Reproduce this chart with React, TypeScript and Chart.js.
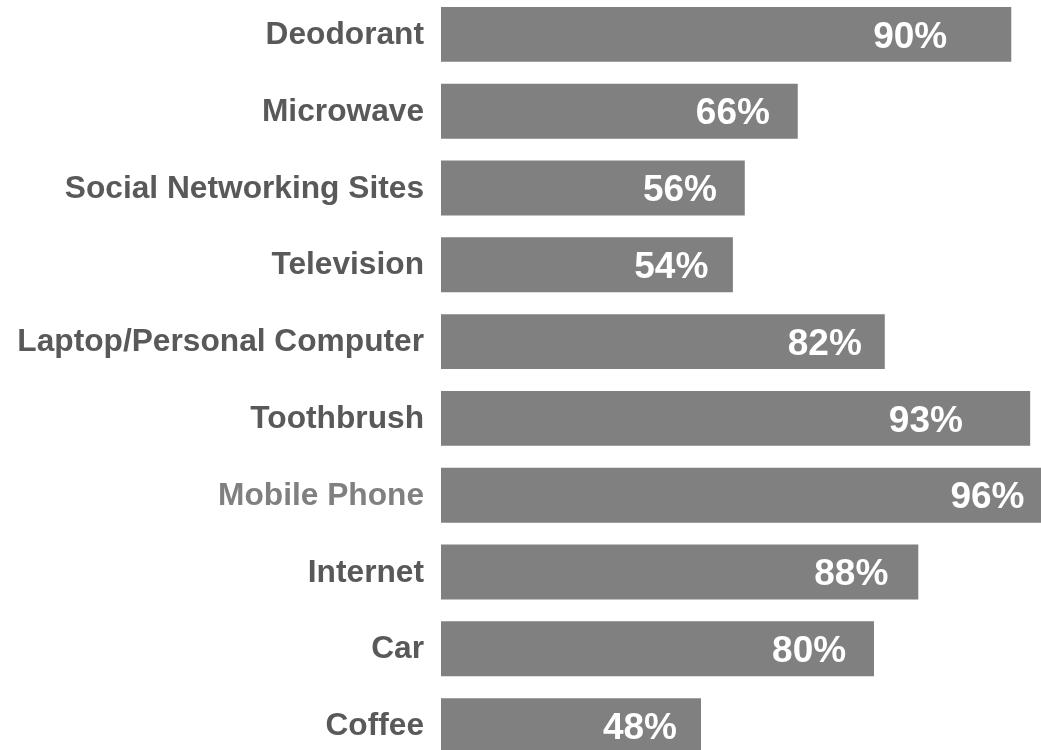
import React, { useEffect, useRef } from "react";
import { Chart, registerables } from "chart.js";

Chart.register(...registerables);

const categories = [
  "Deodorant",
  "Microwave",
  "Social Networking Sites",
  "Television",
  "Laptop/Personal Computer",
  "Toothbrush",
  "Mobile Phone",
  "Internet",
  "Car",
  "Coffee",
];
// drawn bar lengths (as they appear in the picture)
const barValues = [105.5, 66, 56.2, 54, 82.1, 109, 114, 88.3, 80.1, 48.1];
// printed value labels
const valueLabels = ["90%", "66%", "56%", "54%", "82%", "93%", "96%", "88%", "80%", "48%"];
// where each printed label is centred, on the value scale
const labelAnchor = [86.8, 54.0, 44.2, 42.6, 71.0, 89.7, 101.1, 75.9, 68.1, 36.8];
const highlighted = "Mobile Phone";

const FONT = '"Liberation Sans", Arial, sans-serif';

const labelPlugin = {
  id: "labels",
  afterDatasetsDraw(chart: any) {
    const meta = chart.getDatasetMeta(0);
    const xs = chart.scales.x;
    const ctx = chart.ctx;
    const left = chart.chartArea.left;
    ctx.save();
    ctx.textBaseline = "alphabetic";
    // category labels
    const cs = 31.7;
    ctx.font = `bold ${cs}px ${FONT}`;
    ctx.textAlign = "right";
    meta.data.forEach((bar: any, i: number) => {
      ctx.fillStyle = categories[i] === highlighted ? "#808080" : "#595959";
      ctx.fillText(categories[i], left - 17, bar.y + cs * 0.358 - 1.8);
    });
    // value labels
    const vs = 37;
    ctx.font = `bold ${vs}px ${FONT}`;
    ctx.fillStyle = "#ffffff";
    ctx.textAlign = "center";
    meta.data.forEach((bar: any, i: number) => {
      const x = xs.getPixelForValue(labelAnchor[i]);
      ctx.fillText(valueLabels[i], x, bar.y + vs * 0.358);
    });
    ctx.restore();
  },
};

export default function App() {
  const ref = useRef<HTMLCanvasElement | null>(null);
  useEffect(() => {
    if (!ref.current) return;
    const chart = new Chart(ref.current, {
      type: "bar",
      data: {
        labels: categories,
        datasets: [
          {
            data: barValues,
            backgroundColor: "#808080",
            borderWidth: 0,
            categoryPercentage: 1,
            barPercentage: 0.715,
          },
        ],
      },
      options: {
        indexAxis: "y",
        responsive: false,
        animation: false,
        layout: { padding: { left: 441, right: 0, top: 0, bottom: 0 } },
        plugins: {
          legend: { display: false },
          tooltip: { enabled: false },
        },
        scales: {
          x: { min: 0, max: 111, display: false },
          y: { display: false },
        },
      },
      plugins: [labelPlugin],
    });
    return () => chart.destroy();
  }, []);
  return (
    <canvas
      ref={ref}
      width={1041}
      height={768}
      style={{ position: "fixed", left: 0, top: -4, width: 1041, height: 768, background: "#ffffff" }}
    />
  );
}
